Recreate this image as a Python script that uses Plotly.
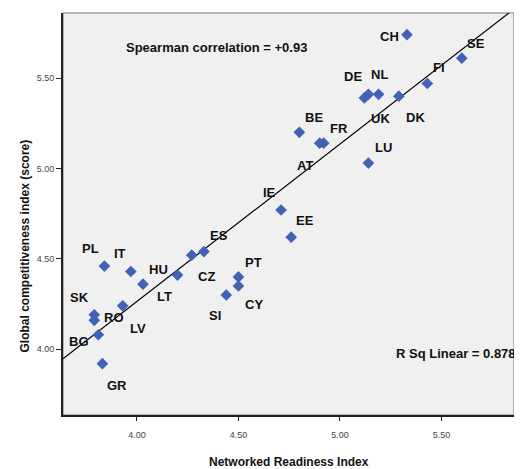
import numpy as np
import plotly.graph_objects as go

countries = ["CH", "SE", "FI", "DK", "NL", "DE", "UK", "BE", "FR", "AT", "LU", "IE", "EE", "ES",
             "CZ", "PL", "IT", "HU", "LT", "PT", "CY", "SI", "LV", "SK", "RO", "BG", "GR"]
nri = [5.33, 5.60, 5.43, 5.29, 5.19, 5.12, 5.14, 4.80, 4.92, 4.90, 5.14, 4.71, 4.76, 4.33,
       4.27, 3.84, 3.97, 4.03, 4.20, 4.50, 4.50, 4.44, 3.93, 3.79, 3.79, 3.81, 3.83]
gci = [5.74, 5.61, 5.47, 5.40, 5.41, 5.39, 5.41, 5.20, 5.14, 5.14, 5.03, 4.77, 4.62, 4.54,
       4.52, 4.46, 4.43, 4.36, 4.41, 4.40, 4.35, 4.30, 4.24, 4.19, 4.16, 4.08, 3.92]

# label pixel offsets (dx right, dy down) relative to each point
label_offsets = {
    "CH": (-17, 2), "SE": (14, -15), "FI": (12, -16), "DK": (17, 21), "NL": (1, -20),
    "DE": (-11, -21), "UK": (12, 24), "BE": (15, -15), "FR": (15, -15), "AT": (-15, 22),
    "LU": (15, -16), "IE": (-12, -18), "EE": (14, -17), "ES": (15, -16), "CZ": (15, 21),
    "PL": (-14, -18), "IT": (-11, -18), "HU": (15, -15), "LT": (-13, 21), "PT": (15, -14),
    "CY": (16, 19), "SI": (-11, 21), "LV": (15, 23), "SK": (-15, -17), "RO": (20, -3),
    "BG": (-19, 7), "GR": (15, 22),
}

x_ticks = [4.0, 4.5, 5.0, 5.5]
y_ticks = [4.0, 4.5, 5.0, 5.5]
x_range = [3.636, 5.857]
y_range = [3.636, 5.860]

slope, intercept = np.polyfit(nri, gci, 1)
fit_x = np.array(x_range)
fit_y = slope * fit_x + intercept

font_family = "Liberation Sans, Arial, sans-serif"

fig = go.Figure()
fig.add_trace(go.Scatter(x=fit_x, y=fit_y, mode="lines",
                         line=dict(color="black", width=1.2), hoverinfo="skip"))
fig.add_trace(go.Scatter(x=nri, y=gci, mode="markers",
                         marker=dict(symbol="diamond", size=9, color="#4162b6",
                                     line=dict(width=0)),
                         text=countries))

annotations = []
for c, xv, yv in zip(countries, nri, gci):
    dx, dy = label_offsets[c]
    annotations.append(dict(x=xv, y=yv, xref="x", yref="y", text="<b>%s</b>" % c,
                            showarrow=False, xshift=dx, yshift=-dy,
                            font=dict(family=font_family, size=13, color="#111")))

annotations.append(dict(x=0.3408, y=0.9386, xref="paper", yref="paper",
                        text="<b>Spearman correlation = +0.93</b>", showarrow=False,
                        font=dict(family=font_family, size=13, color="#111")))
annotations.append(dict(x=1.0089, y=0.130, xref="paper", yref="paper", xanchor="right",
                        text="<b>R Sq Linear = 0.878</b>", showarrow=False,
                        font=dict(family=font_family, size=13, color="#111")))
annotations.append(dict(x=0.5, y=-0.1175, xref="paper", yref="paper", yanchor="middle",
                        text="<b>Networked Readiness Index</b>", showarrow=False,
                        borderpad=0,
                        font=dict(family=font_family, size=12, color="#111")))
annotations.append(dict(x=-0.0843, y=0.4216, xref="paper", yref="paper", xanchor="center",
                        yanchor="middle", textangle=-90,
                        text="<b>Global competitiveness index (score)</b>", showarrow=False,
                        font=dict(family=font_family, size=12, color="#111")))

fig.update_layout(
    width=514, height=461,
    margin=dict(l=55, r=8, t=5, b=54),
    paper_bgcolor="white", plot_bgcolor="#f0f0f0",
    showlegend=False,
    annotations=annotations,
    font=dict(family=font_family),
    shapes=[dict(type="rect", xref="paper", yref="paper", x0=0, x1=1, y0=0, y1=1,
                 line=dict(color="#777", width=1), layer="below")],
)
fig.update_xaxes(range=x_range, tickvals=x_ticks, ticktext=["%.2f" % v for v in x_ticks],
                 showgrid=False, zeroline=False, showline=True, mirror=False,
                 linecolor="#222", linewidth=1.8, ticks="outside", ticklen=4,
                 tickcolor="#222", tickfont=dict(size=9, color="#444"),
                 ticklabelstandoff=6)
fig.update_yaxes(range=y_range, tickvals=y_ticks, ticktext=["%.2f" % v for v in y_ticks],
                 showgrid=False, zeroline=False, showline=True, mirror=False,
                 linecolor="#222", linewidth=1.8, ticks="outside", ticklen=5,
                 tickcolor="#222", tickfont=dict(size=9, color="#444"))

fig.write_html("out.html")
